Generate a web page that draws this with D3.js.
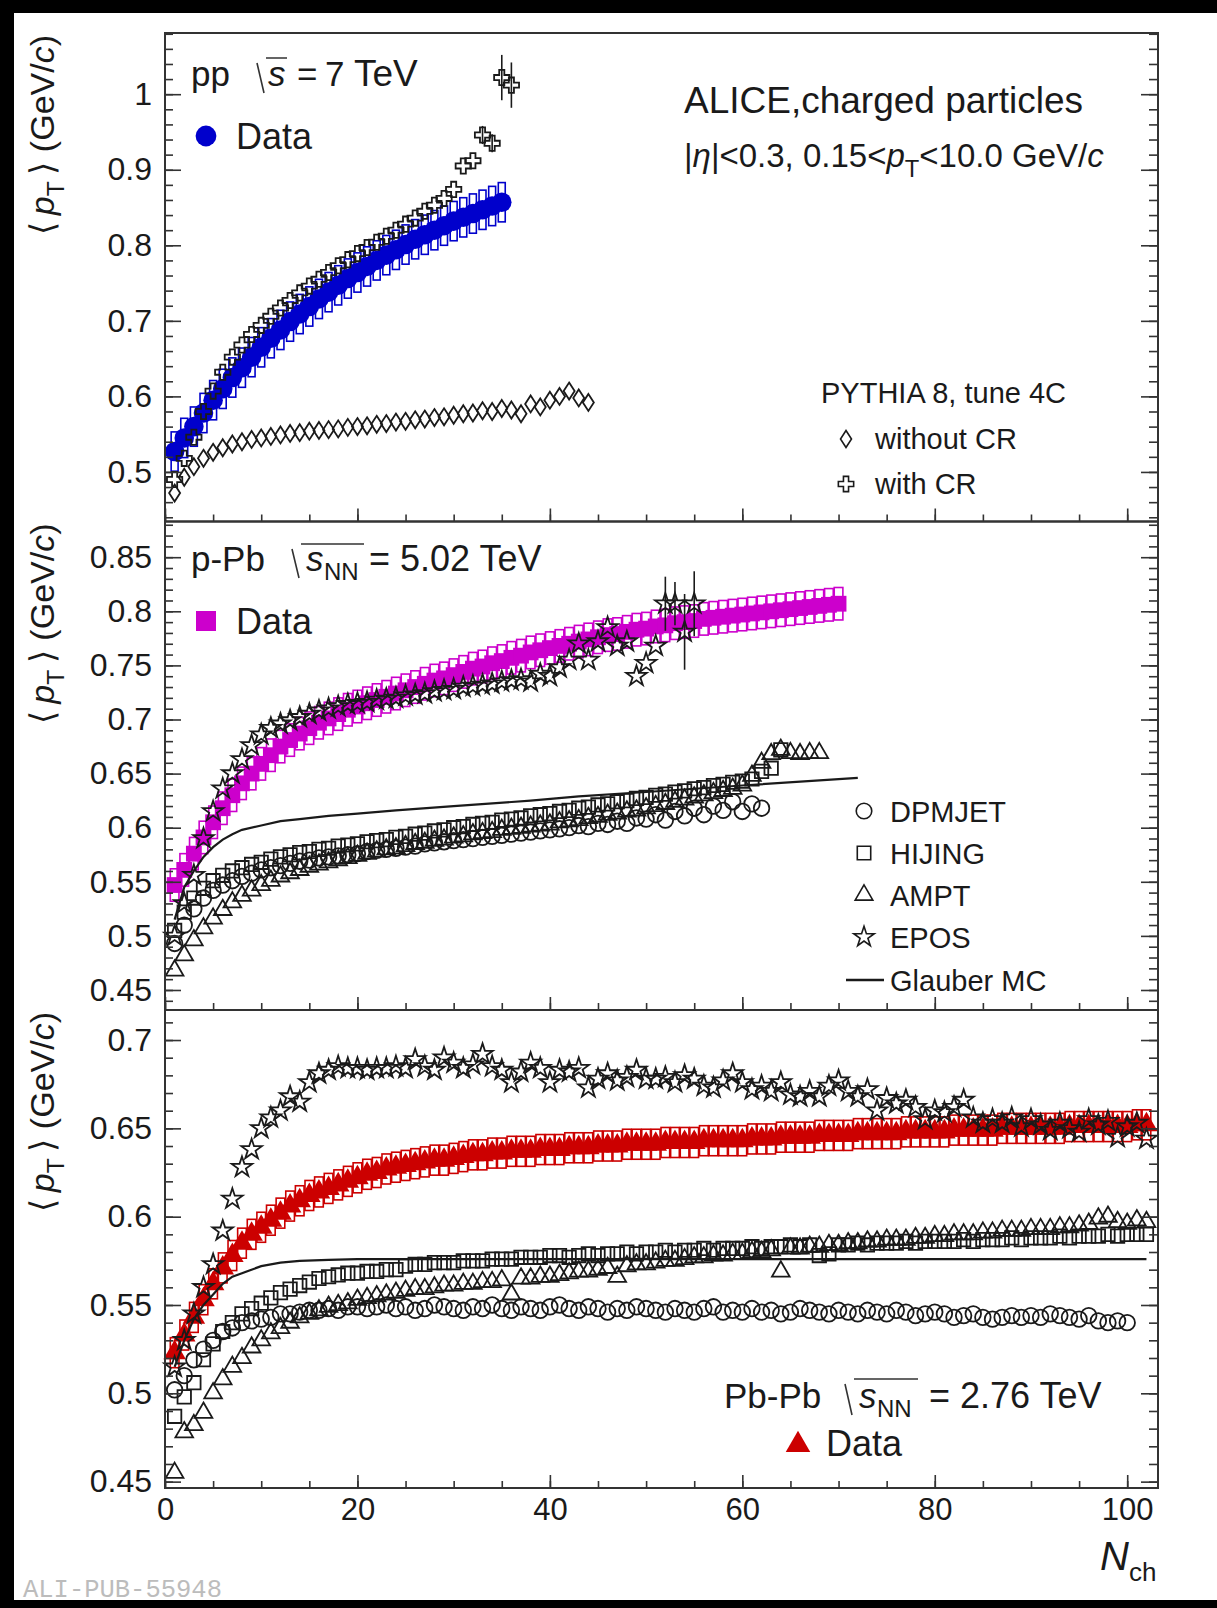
<!DOCTYPE html>
<html>
<head>
<meta charset="utf-8">
<script src="https://cdn.jsdelivr.net/npm/d3@7"></script>
<style>
html, body { margin: 0; padding: 0; background: #000; }
svg { display: block; }
text { font-family: "Liberation Sans", Arial, sans-serif; fill: #1a1a1a; }
</style>
</head>
<body>
<svg id="chart" width="1217" height="1608"></svg>
<script>
// one value per integer Nch, starting at Nch = 1
const ppData = [0.527,0.545,0.560,0.578,0.595,0.610,0.625,0.638,0.652,0.665,
  0.677,0.688,0.699,0.709,0.719,0.729,0.738,0.747,0.756,0.764,
  0.772,0.780,0.787,0.794,0.801,0.808,0.814,0.820,0.826,0.832,
  0.837,0.842,0.847,0.852,0.857];
const ppSyst = 0.026;
const ppNoCR = [0.472,0.493,0.507,0.518,0.526,0.532,0.537,0.540,0.543,0.545,
  0.547,0.549,0.551,0.552,0.554,0.555,0.556,0.557,0.559,0.560,
  0.561,0.563,0.564,0.566,0.567,0.569,0.570,0.572,0.573,0.575,
  0.577,0.578,0.581,0.580,0.584,0.582,0.577,0.590,0.586,0.595,
  0.600,0.607,0.598,0.592];
const ppCR = [0.490,0.518,0.546,0.580,0.607,0.632,0.652,0.668,0.682,0.694,
  0.706,0.717,0.727,0.737,0.746,0.755,0.764,0.773,0.781,0.789,
  0.797,0.804,0.812,0.820,0.828,0.836,0.845,0.853,0.862,0.874,
  0.905,0.912,0.946,0.935,1.022,1.012];
const ppCRErrN = [33, 34, 35, 36];
const ppCRErr = [0.012, 0.012, 0.03, 0.03];

const pPbData = [0.547,0.561,0.576,0.591,0.605,0.618,0.630,0.641,0.650,0.659,
  0.667,0.675,0.681,0.687,0.692,0.697,0.701,0.705,0.709,0.712,
  0.715,0.718,0.721,0.724,0.727,0.730,0.733,0.736,0.738,0.741,
  0.744,0.747,0.749,0.752,0.754,0.757,0.759,0.762,0.764,0.766,
  0.768,0.770,0.772,0.774,0.776,0.778,0.779,0.781,0.783,0.784,
  0.786,0.787,0.789,0.790,0.791,0.793,0.794,0.795,0.796,0.797,
  0.798,0.799,0.800,0.801,0.802,0.803,0.804,0.805,0.806,0.807];
const pPbSyst = 0.015;
const pPbEPOS = [0.500,0.530,0.556,0.590,0.615,0.636,0.650,0.663,0.676,0.686,
  0.692,0.696,0.699,0.702,0.705,0.708,0.710,0.712,0.714,0.715,
  0.716,0.718,0.719,0.720,0.722,0.723,0.724,0.726,0.727,0.728,
  0.730,0.731,0.732,0.733,0.735,0.736,0.737,0.735,0.742,0.740,
  0.748,0.755,0.770,0.755,0.772,0.785,0.768,0.772,0.740,0.752,
  0.768,0.807,0.807,0.781,0.807];
const pPbEPOSErrN = [52, 53, 54, 55];
const pPbEPOSErr = [0.025, 0.02, 0.035, 0.03];
const pPbDPMJET = [0.493,0.510,0.525,0.535,0.542,0.547,0.551,0.555,0.558,0.561,
  0.563,0.565,0.567,0.569,0.570,0.572,0.573,0.574,0.575,0.576,
  0.578,0.579,0.580,0.581,0.582,0.583,0.585,0.586,0.587,0.588,
  0.589,0.590,0.591,0.592,0.593,0.594,0.595,0.596,0.597,0.598,
  0.599,0.600,0.602,0.601,0.604,0.603,0.606,0.604,0.609,0.608,
  0.612,0.607,0.615,0.611,0.618,0.612,0.620,0.616,0.624,0.615,
  0.622,0.618];
const pPbHIJING = [0.505,0.522,0.535,0.544,0.551,0.556,0.560,0.563,0.566,0.568,
  0.571,0.573,0.575,0.577,0.578,0.580,0.581,0.583,0.584,0.585,
  0.587,0.588,0.589,0.591,0.592,0.594,0.595,0.597,0.598,0.600,
  0.601,0.603,0.604,0.605,0.607,0.608,0.609,0.611,0.612,0.613,
  0.615,0.616,0.618,0.619,0.621,0.622,0.624,0.625,0.627,0.628,
  0.630,0.631,0.633,0.634,0.636,0.637,0.639,0.640,0.642,0.643,
  0.645,0.652,0.655,0.672];
const pPbAMPT = [0.468,0.482,0.496,0.507,0.516,0.524,0.531,0.537,0.542,0.547,
  0.551,0.555,0.558,0.561,0.564,0.566,0.568,0.570,0.572,0.574,
  0.576,0.578,0.580,0.581,0.583,0.585,0.586,0.588,0.589,0.591,
  0.592,0.594,0.595,0.596,0.598,0.599,0.600,0.601,0.602,0.603,
  0.605,0.606,0.607,0.609,0.610,0.612,0.613,0.615,0.616,0.618,
  0.620,0.622,0.624,0.626,0.628,0.630,0.632,0.634,0.636,0.639,
  0.648,0.660,0.668,0.672,0.669,0.668,0.669,0.669];
const pPbGlauberN = [1,2,3,4,5,6,7,8,10,12,14,17,20,24,30,38,43,50,60,72];
const pPbGlauber = [0.515,0.545,0.560,0.573,0.582,0.589,0.594,0.598,0.602,0.606,
  0.608,0.611,0.613,0.616,0.620,0.625,0.629,0.633,0.639,0.646];

const PbPbData = [0.523,0.533,0.543,0.553,0.562,0.571,0.578,0.585,0.590,0.594,
  0.598,0.602,0.606,0.609,0.612,0.614,0.616,0.618,0.620,0.622,
  0.624,0.625,0.627,0.628,0.629,0.630,0.631,0.632,0.632,0.633,
  0.634,0.635,0.635,0.636,0.636,0.637,0.637,0.637,0.638,0.638,
  0.638,0.639,0.639,0.639,0.640,0.640,0.640,0.641,0.641,0.641,
  0.641,0.642,0.642,0.642,0.642,0.643,0.643,0.643,0.643,0.643,
  0.644,0.644,0.644,0.645,0.645,0.645,0.645,0.646,0.646,0.646,
  0.646,0.647,0.647,0.647,0.647,0.647,0.648,0.648,0.648,0.648,
  0.648,0.649,0.649,0.649,0.649,0.649,0.650,0.650,0.650,0.650,
  0.650,0.650,0.650,0.651,0.651,0.651,0.651,0.651,0.651,0.651,
  0.652,0.652];
const PbPbSyst = 0.0085;
const PbPbEPOS = [0.515,0.530,0.545,0.560,0.573,0.592,0.610,0.628,0.638,0.650,
  0.656,0.660,0.668,0.665,0.676,0.681,0.683,0.685,0.684,0.684,
  0.683,0.684,0.684,0.685,0.684,0.689,0.685,0.683,0.690,0.687,
  0.684,0.686,0.692,0.685,0.683,0.676,0.682,0.687,0.684,0.676,
  0.683,0.682,0.684,0.673,0.678,0.681,0.677,0.679,0.683,0.678,
  0.678,0.679,0.676,0.680,0.678,0.674,0.673,0.677,0.681,0.676,
  0.672,0.674,0.671,0.676,0.669,0.668,0.671,0.668,0.674,0.677,
  0.671,0.668,0.672,0.660,0.667,0.664,0.666,0.662,0.655,0.660,
  0.659,0.662,0.666,0.656,0.653,0.655,0.653,0.656,0.651,0.655,
  0.652,0.649,0.653,0.650,0.648,0.655,0.652,0.654,0.645,0.651,
  0.653,0.644];
const PbPbHIJING = [0.487,0.498,0.506,0.519,0.528,0.535,0.540,0.545,0.548,0.551,
  0.554,0.557,0.559,0.561,0.563,0.565,0.566,0.567,0.568,0.568,
  0.569,0.569,0.570,0.570,0.572,0.573,0.573,0.574,0.574,0.574,
  0.575,0.575,0.575,0.576,0.576,0.576,0.577,0.577,0.577,0.578,
  0.578,0.577,0.578,0.579,0.578,0.579,0.579,0.580,0.579,0.580,
  0.580,0.581,0.580,0.581,0.581,0.582,0.581,0.582,0.582,0.582,
  0.583,0.582,0.583,0.583,0.584,0.583,0.584,0.578,0.579,0.584,
  0.584,0.585,0.584,0.585,0.585,0.585,0.586,0.585,0.586,0.586,
  0.586,0.586,0.587,0.586,0.587,0.587,0.587,0.588,0.587,0.588,
  0.588,0.588,0.589,0.588,0.589,0.589,0.589,0.590,0.589,0.590,
  0.590,0.590];
const PbPbAMPT = [0.455,0.478,0.482,0.489,0.500,0.508,0.515,0.520,0.526,0.530,
  0.534,0.537,0.540,0.543,0.545,0.547,0.549,0.550,0.551,0.553,
  0.554,0.555,0.556,0.557,0.558,0.559,0.559,0.560,0.561,0.561,
  0.562,0.562,0.563,0.563,0.564,0.556,0.565,0.565,0.566,0.566,
  0.567,0.568,0.569,0.569,0.570,0.571,0.566,0.572,0.573,0.573,
  0.574,0.575,0.575,0.576,0.577,0.577,0.578,0.578,0.579,0.579,
  0.580,0.580,0.581,0.569,0.582,0.582,0.583,0.583,0.584,0.584,
  0.585,0.585,0.586,0.586,0.587,0.587,0.587,0.588,0.588,0.589,
  0.589,0.590,0.590,0.590,0.591,0.591,0.592,0.592,0.592,0.593,
  0.593,0.593,0.594,0.594,0.595,0.596,0.599,0.600,0.597,0.596,
  0.598,0.597];
const PbPbDPMJET = [0.502,0.510,0.519,0.525,0.530,0.535,0.537,0.540,0.541,0.542,
  0.543,0.545,0.545,0.546,0.547,0.547,0.548,0.547,0.549,0.549,
  0.548,0.549,0.550,0.548,0.549,0.547,0.548,0.550,0.549,0.548,
  0.547,0.549,0.548,0.550,0.548,0.547,0.549,0.548,0.547,0.549,
  0.550,0.548,0.547,0.549,0.548,0.546,0.548,0.547,0.549,0.548,
  0.547,0.546,0.548,0.547,0.546,0.548,0.549,0.546,0.547,0.546,
  0.548,0.546,0.547,0.545,0.546,0.548,0.547,0.546,0.545,0.547,
  0.546,0.545,0.547,0.546,0.545,0.547,0.546,0.544,0.545,0.546,
  0.545,0.543,0.544,0.545,0.543,0.542,0.543,0.544,0.543,0.544,
  0.543,0.545,0.544,0.543,0.542,0.544,0.541,0.540,0.541,0.540];
const PbPbGlauberN = [1,2,3,4,5,6,7,8,10,12,14,17,20,30,50,80,102];
const PbPbGlauber = [0.515,0.530,0.542,0.550,0.556,0.562,0.566,0.568,0.572,0.574,
  0.575,0.5755,0.576,0.576,0.576,0.576,0.576];

const xTicks = [0, 20, 40, 60, 80, 100];
const yTicksPP = [0.5, 0.6, 0.7, 0.8, 0.9, 1];
const yTicksPPb = [0.45, 0.5, 0.55, 0.6, 0.65, 0.7, 0.75, 0.8, 0.85];
const yTicksPbPb = [0.45, 0.5, 0.55, 0.6, 0.65, 0.7];

const blue = "#0000cc", magenta = "#cc00cc", red = "#cc0000", ink = "#1a1a1a";

const svg = d3.select("#chart");
svg.append("rect").attr("x", 14).attr("y", 13).attr("width", 1203).attr("height", 1587).attr("fill", "#fff");

const x = d3.scaleLinear().domain([0, 103.2]).range([165, 1158]);

const panels = [
    { top: 33, bottom: 521.5, domain: [0.4344, 1.081], ticks: yTicksPP, minor: 30 },
    { top: 521.5, bottom: 1010, domain: [0.4315, 0.883], ticks: yTicksPPb, minor: 45 },
    { top: 1010, bottom: 1488, domain: [0.4464, 0.717], ticks: yTicksPbPb, minor: 27 }
];
panels.forEach(p => p.y = d3.scaleLinear().domain(p.domain).range([p.bottom, p.top]));

const fmt = d3.format("~g");

const drawAxes = (p, withLabels) => {
    const g = svg.append("g");
    const [x0, x1] = x.range();

    const left = g.append("g").attr("transform", `translate(${x0},0)`)
        .call(d3.axisLeft(p.y).tickValues(p.ticks).tickSizeInner(-16).tickSizeOuter(0).tickPadding(13).tickFormat(fmt));
    left.append("g").call(d3.axisLeft(p.y).ticks(p.minor).tickSizeInner(-8).tickSizeOuter(0).tickFormat(""));
    left.selectAll("text").attr("font-size", 32).attr("fill", ink);

    const right = g.append("g").attr("transform", `translate(${x1},0)`)
        .call(d3.axisRight(p.y).tickValues(p.ticks).tickSizeInner(-17).tickSizeOuter(0).tickFormat(""));
    right.append("g").call(d3.axisRight(p.y).ticks(p.minor).tickSizeInner(-9).tickSizeOuter(0).tickFormat(""));

    const bottom = g.append("g").attr("transform", `translate(0,${p.bottom})`)
        .call(d3.axisBottom(x).tickValues(xTicks).tickSizeInner(-13).tickSizeOuter(0).tickPadding(10).tickFormat(withLabels ? fmt : ""));
    bottom.append("g").call(d3.axisBottom(x).ticks(20).tickSizeInner(-7).tickSizeOuter(0).tickFormat(""));
    bottom.selectAll("text").attr("font-size", 31).attr("fill", ink);

    g.selectAll(".domain").remove();
    g.selectAll(".tick line").attr("stroke", "#333").attr("stroke-width", 1.6);

    g.append("rect").attr("x", x0).attr("y", p.top).attr("width", x1 - x0).attr("height", p.bottom - p.top)
        .attr("fill", "none").attr("stroke", "#333").attr("stroke-width", 2);
};

const sym = {
    circle: d3.symbol().type(d3.symbolCircle).size(190),
    square: d3.symbol().type(d3.symbolSquare).size(180),
    triangle: d3.symbol().type(d3.symbolTriangle).size(135),
    star: d3.symbol().type(d3.symbolStar).size(130),
    cross: d3.symbol().type(d3.symbolCross).size(130),
    diamond: () => "M0,-8.5L5.5,0L0,8.5L-5.5,0Z",
    dataCircle: d3.symbol().type(d3.symbolCircle).size(300),
    dataSquare: d3.symbol().type(d3.symbolSquare).size(250),
    dataTriangle: d3.symbol().type(d3.symbolTriangle).size(220)
};

const drawSyst = (g, p, vals, half, color, halfW) => {
    g.selectAll(null).data(vals).join("rect")
        .attr("x", (d, i) => x(i + 1 - halfW))
        .attr("width", (d, i) => x(i + 1 + halfW) - x(i + 1 - halfW))
        .attr("y", d => p.y(d + half))
        .attr("height", d => p.y(d - half) - p.y(d + half))
        .attr("fill", "none").attr("stroke", color).attr("stroke-width", 1.6);
};

const drawMarkers = (g, p, vals, shape, fill, stroke) => {
    g.selectAll(null).data(vals).join("path")
        .attr("transform", (d, i) => `translate(${x(i + 1)},${p.y(d)})`)
        .attr("d", sym[shape])
        .attr("fill", fill)
        .attr("stroke", stroke)
        .attr("stroke-width", stroke === "none" ? 0 : 1.8);
};

const drawErrors = (g, p, ns, vals, errs) => {
    g.selectAll(null).data(ns).join("line")
        .attr("x1", n => x(n)).attr("x2", n => x(n))
        .attr("y1", (n, i) => p.y(vals[n - 1] + errs[i]))
        .attr("y2", (n, i) => p.y(vals[n - 1] - errs[i]))
        .attr("stroke", ink).attr("stroke-width", 1.6);
};

const drawLine = (g, p, ns, vals) => {
    g.append("path")
        .datum(ns.map((n, i) => [n, vals[i]]))
        .attr("d", d3.line().x(d => x(d[0])).y(d => p.y(d[1])))
        .attr("fill", "none").attr("stroke", ink).attr("stroke-width", 2.2);
};

const addText = (g, px, py, str, size, opts = {}) => {
    const t = g.append("text").attr("x", px).attr("y", py).attr("font-size", size).text(str);
    if (opts.italic) t.attr("font-style", "italic");
    if (opts.anchor) t.attr("text-anchor", opts.anchor);
    if (opts.fill) t.style("fill", opts.fill);
    return t;
};

// ROOT draws the square root as a plain stroke plus a bar over the argument
const radical = (g, rx, base, top, end) => {
    g.append("path")
        .attr("d", `M${rx},${top + 3}L${rx + 7},${base + 7}M${rx + 9},${top - 2}H${end}`)
        .attr("fill", "none").attr("stroke", "#333").attr("stroke-width", 1.6);
};

// rich text with tspans: parts = [[string, flags]]
const rich = (g, px, py, parts, size) => {
    const t = g.append("text").attr("x", px).attr("y", py).attr("font-size", size);
    let shift = 0;
    parts.forEach(([s, f = ""]) => {
        const ts = t.append("tspan").text(s);
        const want = f.includes("sub") ? size * 0.3 : 0;
        if (want !== shift) { ts.attr("dy", want - shift); shift = want; }
        if (f.includes("i")) ts.attr("font-style", "italic");
        if (f.includes("sub")) ts.attr("font-size", size * 0.72);
    });
    return t;
};

// ---------- panel 1 : pp ----------
{
    const p = panels[0];
    const g = svg.append("g");
    drawSyst(g, p, ppData, ppSyst, blue, 0.36);
    drawMarkers(g, p, ppData, "dataCircle", blue, "none");
    drawMarkers(g, p, ppNoCR, "diamond", "none", ink);
    drawErrors(g, p, ppCRErrN, ppCR, ppCRErr);
    drawMarkers(g, p, ppCR, "cross", "none", ink);
}
// ---------- panel 2 : p-Pb ----------
{
    const p = panels[1];
    const g = svg.append("g");
    drawSyst(g, p, pPbData, pPbSyst, magenta, 0.45);
    drawMarkers(g, p, pPbData, "dataSquare", magenta, "none");
    drawMarkers(g, p, pPbDPMJET, "circle", "none", ink);
    drawMarkers(g, p, pPbHIJING, "square", "none", ink);
    drawMarkers(g, p, pPbAMPT, "triangle", "none", ink);
    drawErrors(g, p, pPbEPOSErrN, pPbEPOS, pPbEPOSErr);
    drawMarkers(g, p, pPbEPOS, "star", "none", ink);
    drawLine(g, p, pPbGlauberN, pPbGlauber);
}
// ---------- panel 3 : Pb-Pb ----------
{
    const p = panels[2];
    const g = svg.append("g");
    drawSyst(g, p, PbPbData, PbPbSyst, red, 0.45);
    drawMarkers(g, p, PbPbData, "dataTriangle", red, "none");
    drawMarkers(g, p, PbPbDPMJET, "circle", "none", ink);
    drawMarkers(g, p, PbPbHIJING, "square", "none", ink);
    drawMarkers(g, p, PbPbAMPT, "triangle", "none", ink);
    drawMarkers(g, p, PbPbEPOS, "star", "none", ink);
    drawLine(g, p, PbPbGlauberN, PbPbGlauber);
}

panels.forEach((p, i) => drawAxes(p, i === 2));

// ---------- labels ----------
const lab = svg.append("g");

// y axis titles, right-aligned to the top of each pad
panels.forEach(p => {
    const yt = lab.append("g");
    const t = rich(yt, 0, 0, [["\u27E8\u2009"], ["p", "i"], ["T", "sub"], ["\u2009\u27E9  (GeV/"], ["c", "i"], [")"]], 34);
    const w = t.node().getComputedTextLength();
    yt.attr("transform", `translate(54,${p.top + 2 + w}) rotate(-90)`);
});

// x axis title
addText(lab, 1100, 1570, "N", 40, { italic: true });
addText(lab, 1129, 1581, "ch", 26);

// pp
addText(lab, 191, 86, "pp", 35);
radical(lab, 257, 86, 60, 287);
addText(lab, 268, 86, "s", 35, { italic: true });
addText(lab, 297, 86, "=", 35);
addText(lab, 325, 86, "7", 35);
addText(lab, 354, 86, "TeV", 37);
lab.append("path").attr("transform", "translate(206,136)").attr("d", d3.symbol().type(d3.symbolCircle).size(340)).attr("fill", blue);
addText(lab, 236, 149, "Data", 36);
addText(lab, 684, 113, "ALICE,charged particles", 37);
rich(lab, 684, 167, [["|"], ["\u03B7", "i"], ["|<0.3, 0.15<"], ["p", "i"], ["T", "sub"], ["<10.0 GeV/"], ["c", "i"]], 33);
addText(lab, 821, 403, "PYTHIA 8, tune 4C", 29);
lab.append("path").attr("transform", "translate(846,439)").attr("d", sym.diamond()).attr("fill", "none").attr("stroke", ink).attr("stroke-width", 1.6);
addText(lab, 875, 449, "without CR", 29);
lab.append("path").attr("transform", "translate(846,484)").attr("d", sym.cross()).attr("fill", "none").attr("stroke", ink).attr("stroke-width", 1.6);
addText(lab, 875, 494, "with CR", 29);

// p-Pb
addText(lab, 191, 571, "p-Pb", 35);
radical(lab, 292, 571, 546, 364);
addText(lab, 306, 571, "s", 35, { italic: true });
addText(lab, 324, 580, "NN", 24);
addText(lab, 369, 571, "= 5.02 TeV", 36);
lab.append("rect").attr("x", 196).attr("y", 611).attr("width", 20).attr("height", 20).attr("fill", magenta);
addText(lab, 236, 634, "Data", 36);

const legY = [811, 853, 895, 937, 980];
const legNames = ["DPMJET", "HIJING", "AMPT", "EPOS", "Glauber MC"];
const legShapes = ["circle", "square", "triangle", "star"];
legShapes.forEach((s, i) => {
    lab.append("path").attr("transform", `translate(864,${legY[i]})`).attr("d", sym[s]())
        .attr("fill", "none").attr("stroke", ink).attr("stroke-width", 1.6);
});
lab.append("line").attr("x1", 846).attr("x2", 884).attr("y1", legY[4]).attr("y2", legY[4]).attr("stroke", ink).attr("stroke-width", 2.4);
legNames.forEach((n, i) => addText(lab, 890, legY[i] + 10.5, n, 29));

// Pb-Pb
addText(lab, 724, 1408, "Pb-Pb", 35);
radical(lab, 845, 1408, 1381, 918);
addText(lab, 859, 1408, "s", 35, { italic: true });
addText(lab, 877, 1417, "NN", 24);
addText(lab, 929, 1408, "= 2.76 TeV", 36);
lab.append("path").attr("transform", "translate(798,1445)").attr("d", d3.symbol().type(d3.symbolTriangle).size(260)).attr("fill", red);
addText(lab, 826, 1456, "Data", 36);

// watermark
addText(lab, 23, 1597, "ALI-PUB-55948", 25.5, { fill: "#bcbcbc" })
    .style("font-family", "'Liberation Mono', 'DejaVu Sans Mono', monospace");
</script>
</body>
</html>
